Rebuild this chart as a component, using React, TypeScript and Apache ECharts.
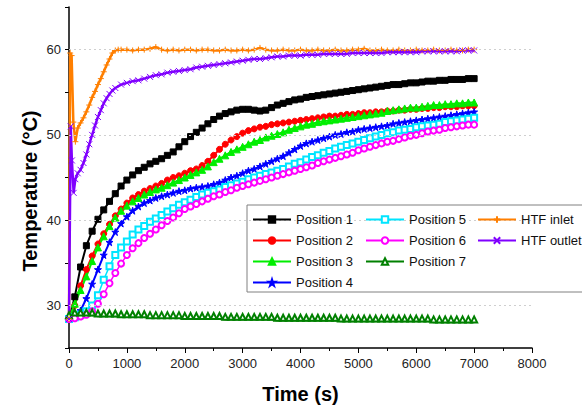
import React, { useEffect, useRef } from "react";
import * as echarts from "echarts";

// Sampling times (s) shared by the seven positions
const TIME = [
  0, 100, 200, 300, 400, 500, 600, 700, 800, 900,
  1000, 1100, 1200, 1300, 1400, 1500, 1600, 1700, 1800, 1900,
  2000, 2100, 2200, 2300, 2400, 2500, 2600, 2700, 2800, 2900,
  3000, 3100, 3200, 3300, 3400, 3500, 3600, 3700, 3800, 3900,
  4000, 4100, 4200, 4300, 4400, 4500, 4600, 4700, 4800, 4900,
  5000, 5100, 5200, 5300, 5400, 5500, 5600, 5700, 5800, 5900,
  6000, 6100, 6200, 6300, 6400, 6500, 6600, 6700, 6800, 6900,
  7000,
];

const POS1 = [
  28.4, 31.0, 34.5, 37.0, 38.7, 40.1, 41.2, 42.2, 43.1, 44.0,
  44.7, 45.3, 45.8, 46.2, 46.6, 46.9, 47.2, 47.6, 48.0, 48.6,
  49.2, 49.8, 50.3, 50.8, 51.3, 51.8, 52.2, 52.5, 52.7, 52.9,
  53.0, 53.0, 52.9, 52.8, 52.9, 53.2, 53.5, 53.7, 53.9, 54.1,
  54.2, 54.4, 54.5, 54.6, 54.7, 54.8, 54.9, 55.0, 55.1, 55.2,
  55.3, 55.4, 55.5, 55.6, 55.7, 55.8, 55.9, 55.9, 56.0, 56.1,
  56.1, 56.2, 56.3, 56.3, 56.4, 56.4, 56.5, 56.5, 56.5, 56.6,
  56.6,
];

const POS2 = [
  28.4, 30.0, 32.3, 34.2, 35.8, 37.2, 38.4, 39.5, 40.5, 41.3,
  42.0, 42.6, 43.0, 43.4, 43.7, 44.0, 44.3, 44.7, 45.0, 45.2,
  45.5, 45.8, 46.0, 46.4, 46.9, 47.6, 48.3, 48.9, 49.4, 49.8,
  50.2, 50.5, 50.7, 50.9, 51.0, 51.2, 51.3, 51.4, 51.5, 51.6,
  51.7, 51.8, 51.9, 52.0, 52.1, 52.2, 52.2, 52.3, 52.4, 52.4,
  52.5, 52.6, 52.6, 52.7, 52.7, 52.8, 52.8, 52.9, 52.9, 53.0,
  53.0, 53.1, 53.1, 53.2, 53.2, 53.3, 53.3, 53.3, 53.4, 53.4,
  53.4,
];

const POS3 = [
  28.4, 30.2, 31.8, 33.4, 35.2, 36.8, 38.1, 39.3, 40.3, 41.1,
  41.7, 42.2, 42.6, 43.0, 43.3, 43.6, 43.8, 44.1, 44.4, 44.7,
  45.0, 45.3, 45.6, 45.9, 46.3, 46.8, 47.2, 47.6, 48.0, 48.3,
  48.6, 48.9, 49.2, 49.4, 49.7, 49.9, 50.1, 50.3, 50.6, 50.8,
  51.0, 51.2, 51.3, 51.5, 51.6, 51.7, 51.8, 51.9, 52.0, 52.1,
  52.2, 52.3, 52.4, 52.5, 52.6, 52.8, 52.9, 53.0, 53.1, 53.2,
  53.2, 53.3, 53.4, 53.5, 53.5, 53.6, 53.6, 53.7, 53.7, 53.8,
  53.8,
];

const POS4 = [
  28.4, 28.8, 29.4, 30.8, 32.5, 34.2, 35.9, 37.4, 38.6, 39.6,
  40.4, 41.1, 41.6, 42.0, 42.3, 42.6, 42.8, 43.0, 43.2, 43.4,
  43.5, 43.7, 43.8, 43.9, 44.0, 44.2, 44.4, 44.7, 45.0, 45.2,
  45.5, 45.8, 46.0, 46.3, 46.6, 46.9, 47.2, 47.5, 47.9, 48.3,
  48.7, 49.0, 49.2, 49.4, 49.6, 49.8, 50.0, 50.1, 50.3, 50.4,
  50.6, 50.7, 50.8, 50.9, 51.0, 51.1, 51.3, 51.4, 51.5, 51.6,
  51.7, 51.8, 51.9, 52.0, 52.1, 52.2, 52.3, 52.4, 52.5, 52.6,
  52.7,
];

const POS5 = [
  28.4, 28.6, 28.9, 29.3, 30.0, 31.2, 33.0, 34.6, 35.9, 36.8,
  37.5, 38.3, 38.9, 39.3, 39.8, 40.2, 40.6, 41.0, 41.4, 41.8,
  42.1, 42.4, 42.7, 43.0, 43.2, 43.4, 43.6, 43.9, 44.1, 44.3,
  44.5, 44.8, 45.0, 45.2, 45.4, 45.6, 45.8, 46.0, 46.3, 46.6,
  46.8, 47.1, 47.4, 47.6, 47.9, 48.1, 48.4, 48.6, 48.8, 49.0,
  49.2, 49.4, 49.6, 49.8, 50.0, 50.2, 50.3, 50.5, 50.6, 50.7,
  50.9, 51.0, 51.1, 51.2, 51.3, 51.5, 51.6, 51.7, 51.8, 51.9,
  52.0,
];

const POS6 = [
  28.4, 28.5, 28.7, 28.9, 29.3, 30.2, 31.3, 32.6, 33.8, 34.9,
  35.9, 36.7, 37.3, 37.9, 38.4, 38.9, 39.4, 39.9, 40.3, 40.8,
  41.3, 41.6, 41.9, 42.2, 42.5, 42.8, 43.0, 43.3, 43.5, 43.8,
  44.0, 44.2, 44.4, 44.6, 44.8, 45.0, 45.2, 45.4, 45.6, 45.8,
  46.0, 46.2, 46.4, 46.7, 46.9, 47.1, 47.3, 47.5, 47.7, 47.9,
  48.2, 48.4, 48.6, 48.8, 49.0, 49.2, 49.3, 49.5, 49.7, 49.9,
  50.0, 50.2, 50.4, 50.5, 50.6, 50.8, 50.9, 51.0, 51.1, 51.2,
  51.2,
];

const POS7 = [
  28.5, 28.8, 28.8, 28.8, 28.8, 28.7, 28.7, 28.7, 28.7, 28.6,
  28.6, 28.6, 28.6, 28.6, 28.5, 28.5, 28.5, 28.5, 28.5, 28.5,
  28.4, 28.4, 28.4, 28.4, 28.4, 28.4, 28.4, 28.3, 28.3, 28.3,
  28.3, 28.3, 28.3, 28.3, 28.3, 28.3, 28.2, 28.2, 28.2, 28.2,
  28.2, 28.2, 28.2, 28.2, 28.2, 28.2, 28.2, 28.1, 28.1, 28.1,
  28.1, 28.1, 28.1, 28.1, 28.1, 28.1, 28.1, 28.1, 28.1, 28.1,
  28.1, 28.1, 28.1, 28.0, 28.0, 28.0, 28.0, 28.0, 28.0, 28.0,
  28.0,
];

// Heat-transfer-fluid temperatures, logged more finely during start-up
const INLET_TIME = [
  0, 20, 45, 75, 110, 150, 200, 250, 300, 350,
  400, 450, 500, 550, 600, 650, 700, 750, 800, 850,
  900, 1000, 1100, 1200, 1300, 1400, 1500, 1600, 1700, 1800,
  1900, 2000, 2100, 2200, 2300, 2400, 2500, 2600, 2700, 2800,
  2900, 3000, 3100, 3200, 3300, 3400, 3500, 3600, 3700, 3800,
  3900, 4000, 4100, 4200, 4300, 4400, 4500, 4600, 4700, 4800,
  4900, 5000, 5100, 5200, 5300, 5400, 5500, 5600, 5700, 5800,
  5900, 6000, 6100, 6200, 6300, 6400, 6500, 6600, 6700, 6800,
  6900, 7000,
];

const INLET = [
  28.4, 59.6, 59.3, 51.5, 49.2, 50.8, 51.4, 52.0, 52.7, 53.5,
  54.4, 55.1, 55.9, 56.6, 57.4, 58.2, 58.9, 59.6, 59.9, 60.0,
  60.0, 60.0, 59.9, 60.0, 60.0, 60.1, 60.3, 60.0, 59.9, 60.0,
  59.9, 60.0, 60.0, 59.9, 60.0, 60.0, 59.9, 59.9, 60.0, 59.9,
  59.9, 60.0, 59.9, 60.0, 60.2, 60.0, 59.9, 59.9, 60.0, 59.9,
  59.9, 60.0, 59.9, 59.9, 60.0, 59.9, 59.9, 60.0, 59.9, 59.9,
  60.0, 60.0, 60.1, 59.9, 59.9, 60.0, 59.9, 59.9, 60.0, 59.9,
  59.9, 60.0, 59.9, 59.9, 60.0, 59.9, 59.9, 60.0, 59.9, 59.9,
  60.0, 60.0,
];

const OUTLET_TIME = [
  0, 30, 50, 80, 110, 150, 200, 250, 300, 350,
  400, 450, 500, 550, 600, 650, 700, 750, 800, 900,
  1000, 1100, 1200, 1300, 1400, 1500, 1600, 1700, 1800, 1900,
  2000, 2100, 2200, 2300, 2400, 2500, 2600, 2700, 2800, 2900,
  3000, 3100, 3200, 3300, 3400, 3500, 3600, 3700, 3800, 3900,
  4000, 4100, 4200, 4300, 4400, 4500, 4600, 4700, 4800, 4900,
  5000, 5100, 5200, 5300, 5400, 5500, 5600, 5700, 5800, 5900,
  6000, 6100, 6200, 6300, 6400, 6500, 6600, 6700, 6800, 6900,
  7000,
];

const OUTLET = [
  28.4, 51.0, 47.0, 43.2, 44.8, 45.5, 45.9, 46.7, 47.7, 48.9,
  50.0, 51.1, 52.1, 52.9, 53.7, 54.3, 54.8, 55.2, 55.5, 55.9,
  56.1, 56.3, 56.4, 56.6, 56.8, 57.0, 57.1, 57.3, 57.4, 57.5,
  57.6, 57.7, 57.9, 58.0, 58.1, 58.2, 58.3, 58.4, 58.5, 58.6,
  58.7, 58.8, 58.9, 58.9, 59.0, 59.1, 59.2, 59.2, 59.3, 59.3,
  59.3, 59.4, 59.4, 59.4, 59.5, 59.5, 59.5, 59.5, 59.5, 59.6,
  59.6, 59.6, 59.6, 59.6, 59.6, 59.7, 59.7, 59.7, 59.7, 59.7,
  59.7, 59.8, 59.8, 59.8, 59.8, 59.8, 59.8, 59.8, 59.9, 59.9,
  59.9,
];

const Y_GRID_VALUES = [30, 40, 50, 60];

const FONT = '"Liberation Sans", Arial, sans-serif';

const STAR = "path://M5,0L6.2,3.6L10,3.6L6.9,5.8L8.1,9.5L5,7.2L1.9,9.5L3.1,5.8L0,3.6L3.8,3.6Z";
const PLUS = "path://M5,0L5,10M0,5L10,5";
const CROSS = "path://M0,0L10,10M0,10L10,0";

const pair = (xs: number[], ys: number[]) => xs.map((x, i) => [x, ys[i]]);

export default function App() {
  const ref = useRef<HTMLDivElement>(null);

  useEffect(() => {
    if (!ref.current) return;
    const chart = echarts.init(ref.current, null, { renderer: "svg" });

    const line = (
      name: string,
      xs: number[],
      ys: number[],
      color: string,
      symbol: string,
      size: number,
      width: number,
      extra: any = {}
    ) => ({
      name,
      type: "line",
      data: pair(xs, ys),
      symbol,
      symbolSize: size,
      showSymbol: true,
      lineStyle: { color, width },
      itemStyle: { color, borderColor: color, borderWidth: 1 },
      ...extra,
    });

    const option: any = {
      animation: false,
      backgroundColor: "#fff",
      grid: { left: 69, right: 50, top: 7, bottom: 65 },
      xAxis: {
        type: "value",
        min: 0,
        max: 8000,
        interval: 1000,
        name: "Time (s)",
        nameLocation: "middle",
        nameGap: 36,
        nameTextStyle: { fontFamily: FONT, fontSize: 20, fontWeight: "bold", color: "#000" },
        axisLine: { onZero: false, lineStyle: { color: "#000", width: 1.5 } },
        axisTick: { show: true, length: 5, lineStyle: { color: "#000" } },
        minorTick: { show: true, splitNumber: 2, length: 3, lineStyle: { color: "#000" } },
        axisLabel: {
          fontFamily: FONT,
          fontSize: 13,
          color: "#222",
          margin: 9,
          formatter: (v: number) => String(v),
        },
        splitLine: { show: false },
      },
      yAxis: {
        type: "value",
        min: 25,
        max: 65,
        interval: 5,
        axisLine: { show: true, onZero: false, lineStyle: { color: "#000", width: 1.5 } },
        axisTick: { show: true, length: 4, lineStyle: { color: "#000" } },
        axisLabel: {
          fontFamily: FONT,
          fontSize: 13,
          color: "#222",
          margin: 8,
          formatter: (v: number) => (v % 10 === 0 ? String(v) : ""),
        },
        splitLine: { show: false },
      },
      legend: [
        {
          data: ["Position 1", "Position 2", "Position 3", "Position 4"],
          left: 252,
          top: 213,
        },
        { data: ["Position 5", "Position 6", "Position 7"], left: 365, top: 213 },
        { data: ["HTF inlet", "HTF outlet"], left: 477, top: 213 },
      ].map((l) => ({
        ...l,
        orient: "vertical",
        padding: 0,
        itemGap: 8,
        itemWidth: 38,
        itemHeight: 8,
        z: 6,
        textStyle: { fontFamily: FONT, fontSize: 13, color: "#111", lineHeight: 13 },
      })),
      graphic: [
        {
          type: "rect",
          z: 5,
          shape: { x: 247, y: 205, width: 400, height: 87 },
          style: { fill: "#fff", stroke: "#808080", lineWidth: 1 },
        },
        {
          type: "text",
          x: 30,
          y: 191,
          rotation: Math.PI / 2,
          style: {
            text: "Temperature (°C)",
            font: `bold 20px ${FONT}`,
            fill: "#000",
            align: "center",
            verticalAlign: "middle",
          },
        },
      ],
      series: [
        line("Position 1", TIME, POS1, "#000000", "rect", 6, 2, {
          markLine: {
            silent: true,
            symbol: ["none", "none"],
            label: { show: false },
            lineStyle: { color: "#cfcfcf", type: [2, 3], width: 1 },
            data: Y_GRID_VALUES.map((v) => ({ yAxis: v })),
          },
        }),
        line("Position 2", TIME, POS2, "#ff0000", "circle", 6, 2),
        line("Position 3", TIME, POS3, "#00ee00", "triangle", 7, 2),
        line("Position 4", TIME, POS4, "#0000ff", STAR, 7, 2),
        line("Position 5", TIME, POS5, "#00e5ff", "emptyRect", 6, 1.5),
        line("Position 6", TIME, POS6, "#ff00ff", "emptyCircle", 6, 1.5),
        line("Position 7", TIME, POS7, "#008000", "emptyTriangle", 6, 1.5, {
          symbolOffset: [0, -3],
        }),
        line("HTF inlet", INLET_TIME, INLET, "#ff7f00", PLUS, 6, 2.5),
        line("HTF outlet", OUTLET_TIME, OUTLET, "#8000ff", CROSS, 6, 2.5),
      ],
    };

    chart.setOption(option);
    return () => chart.dispose();
  }, []);

  return (
    <div
      ref={ref}
      style={{ position: "fixed", left: 0, top: 0, width: 582, height: 413, background: "#fff" }}
    />
  );
}
